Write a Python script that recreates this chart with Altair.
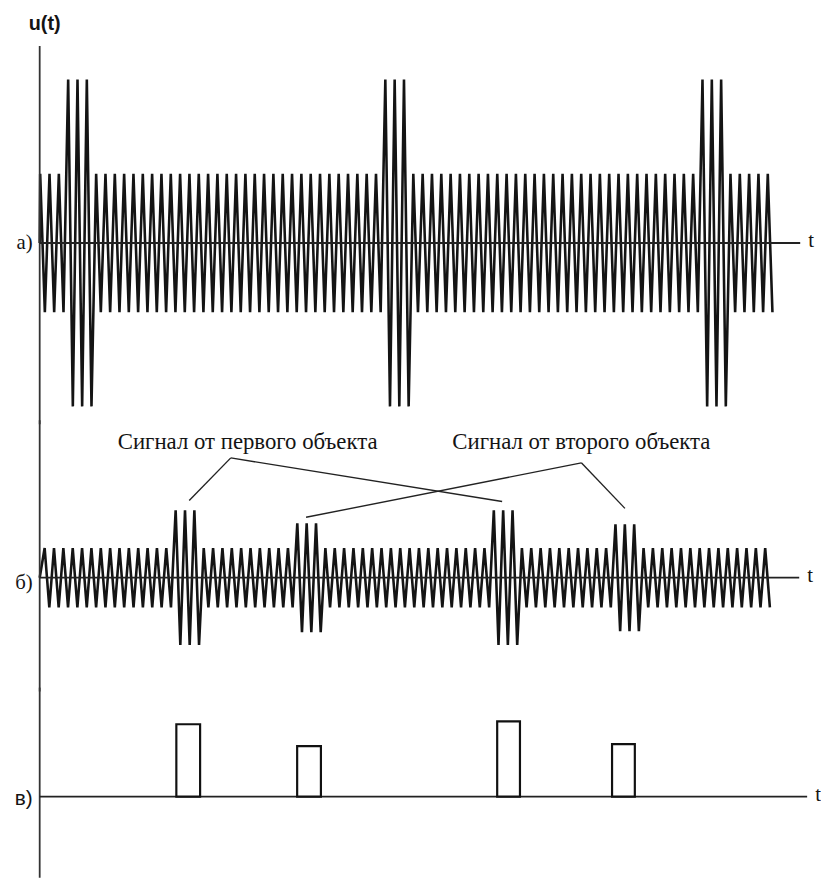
import altair as alt
import pandas as pd

# ---------------- data ----------------
# time axis t in arbitrary units (0 = vertical axis)
# panel а): carrier with three strong bursts
A_PERIOD = 9.42
A_FIRST_PEAK = 0.5
A_CYCLES = 79
A_AMP = 70
A_BURST_T = [28, 348, 669]
A_BURST_AMP = [165, 165, 165]

# panel б): weaker carrier, echoes from two objects
B_PERIOD = 9.45
B_FIRST_PEAK = 5
B_CYCLES = 78
B_AMP = 30
B_BURST_T = [137, 259, 460, 582]
B_BURST_AMP = [68, 55, 68, 54]

BURST_CYCLES = 3

# panel в): detected pulses (start, end, height)
C_START = [138, 260, 462, 578]
C_END = [162, 284, 485, 601]
C_HEIGHT = [73, 51, 76, 53]

AXIS_END_A, AXIS_END_B, AXIS_END_C = 768, 767, 775

ANNOT_TEXT = ["Сигнал от первого объекта", "Сигнал от второго объекта"]
ANNOT_T = [210, 547]
ANNOT_V = [137, 137]
# leader lines: (t1, v1, t2, v2)
LEAD_T1 = [193, 193, 547, 547]
LEAD_V1 = [121, 121, 116, 116]
LEAD_T2 = [151, 467, 591, 269]
LEAD_V2 = [78, 77, 70, 61]


def wave(period, first, cycles, amp, burst_t, burst_amp):
    rows = [{"i": 0, "t": 0.0, "v": 0.0}]
    i = 1
    for k in range(cycles):
        tp = first + k * period
        a = amp
        for bt, ba in zip(burst_t, burst_amp):
            if bt - period / 2 <= tp <= bt + (BURST_CYCLES - 1) * period + period / 2:
                a = ba
        rows.append({"i": i, "t": tp, "v": a}); i += 1
        rows.append({"i": i, "t": tp + period / 2, "v": -a}); i += 1
    return pd.DataFrame(rows)


wa = wave(A_PERIOD, A_FIRST_PEAK, A_CYCLES, A_AMP, A_BURST_T, A_BURST_AMP)
wb = wave(B_PERIOD, B_FIRST_PEAK, B_CYCLES, B_AMP, B_BURST_T, B_BURST_AMP)

W = 813
XDOM = [-32, 781]
INK = "#141414"
SERIF = "Liberation Serif"
OVERLAP = 4


def xq(field="t"):
    return alt.X(f"{field}:Q", scale=alt.Scale(domain=XDOM, nice=False, zero=False), axis=None)


def yq(dom, field="v"):
    return alt.Y(f"{field}:Q", scale=alt.Scale(domain=dom, nice=False, zero=False), axis=None)


def base_layers(dom, axis_end, top, label, label_font, label_v):
    vaxis = alt.Chart(pd.DataFrame({"t": [0], "v": [dom[0] - OVERLAP], "v2": [top]})).mark_rule(
        color="#333", strokeWidth=1.8).encode(x=xq(), y=yq(dom), y2="v2:Q")
    haxis = alt.Chart(pd.DataFrame({"t": [0], "t2": [axis_end], "v": [0]})).mark_rule(
        color="#222", strokeWidth=1.8).encode(x=xq(), x2="t2:Q", y=yq(dom))
    tlab = alt.Chart(pd.DataFrame({"t": [axis_end + 11], "v": [2], "s": ["t"]})).mark_text(
        font=SERIF, fontSize=21, color=INK, align="center", baseline="middle").encode(
        x=xq(), y=yq(dom), text="s:N")
    plab = alt.Chart(pd.DataFrame({"t": [-7], "v": [label_v], "s": [label]})).mark_text(
        font=label_font, fontSize=21, color=INK, align="right", baseline="middle").encode(
        x=xq(), y=yq(dom), text="s:N")
    return [vaxis, haxis, tlab, plab]


# ---- panel a ----
DOM_A = [-179, 233]
line_a = alt.Chart(wa).mark_line(color=INK, strokeWidth=2.6).encode(
    x=xq(), y=yq(DOM_A), order="i:Q")
ulab = alt.Chart(pd.DataFrame({"t": [5], "v": [221], "s": ["u(t)"]})).mark_text(
    font="Liberation Sans", fontWeight="bold", fontSize=20, color=INK,
    align="center", baseline="middle").encode(x=xq(), y=yq(DOM_A), text="s:N")
panel_a = alt.layer(line_a, *base_layers(DOM_A, AXIS_END_A, 199, "a)", SERIF, 0), ulab).properties(
    width=W, height=412)

# ---- panel b ----
DOM_B = [-111, 159]
line_b = alt.Chart(wb).mark_line(color=INK, strokeWidth=2.6).encode(
    x=xq(), y=yq(DOM_B), order="i:Q")
lead = alt.Chart(pd.DataFrame({"t": LEAD_T1, "v": LEAD_V1, "t2": LEAD_T2, "v2": LEAD_V2})).mark_rule(
    color="#222", strokeWidth=1.4).encode(x=xq(), y=yq(DOM_B), x2="t2:Q", y2="v2:Q")
annot = alt.Chart(pd.DataFrame({"t": ANNOT_T, "v": ANNOT_V, "s": ANNOT_TEXT})).mark_text(
    font=SERIF, fontSize=23, color=INK, align="center", baseline="middle").encode(
    x=xq(), y=yq(DOM_B), text="s:N")
panel_b = alt.layer(line_b, lead, annot, *base_layers(DOM_B, AXIS_END_B, DOM_B[1], "б)", SERIF, -5)).properties(
    width=W, height=270)

# ---- panel c ----
DOM_C = [-78, 110]
pulses = alt.Chart(pd.DataFrame({"t": C_START, "t2": C_END, "v": [0] * 4, "v2": C_HEIGHT})).mark_rect(
    fill="white", stroke="#111", strokeWidth=2.2).encode(x=xq(), x2="t2:Q", y=yq(DOM_C), y2="v2:Q")
panel_c = alt.layer(*base_layers(DOM_C, AXIS_END_C, DOM_C[1], "в)", "Liberation Sans", -3), pulses).properties(
    width=W, height=188)

chart = alt.vconcat(panel_a, panel_b, panel_c, spacing=0, padding=0, bounds="flush",
                    background="white").configure_view(stroke=None).configure_concat(spacing=0)

chart.save("out.html", embed_options={"renderer": "svg", "actions": False})
